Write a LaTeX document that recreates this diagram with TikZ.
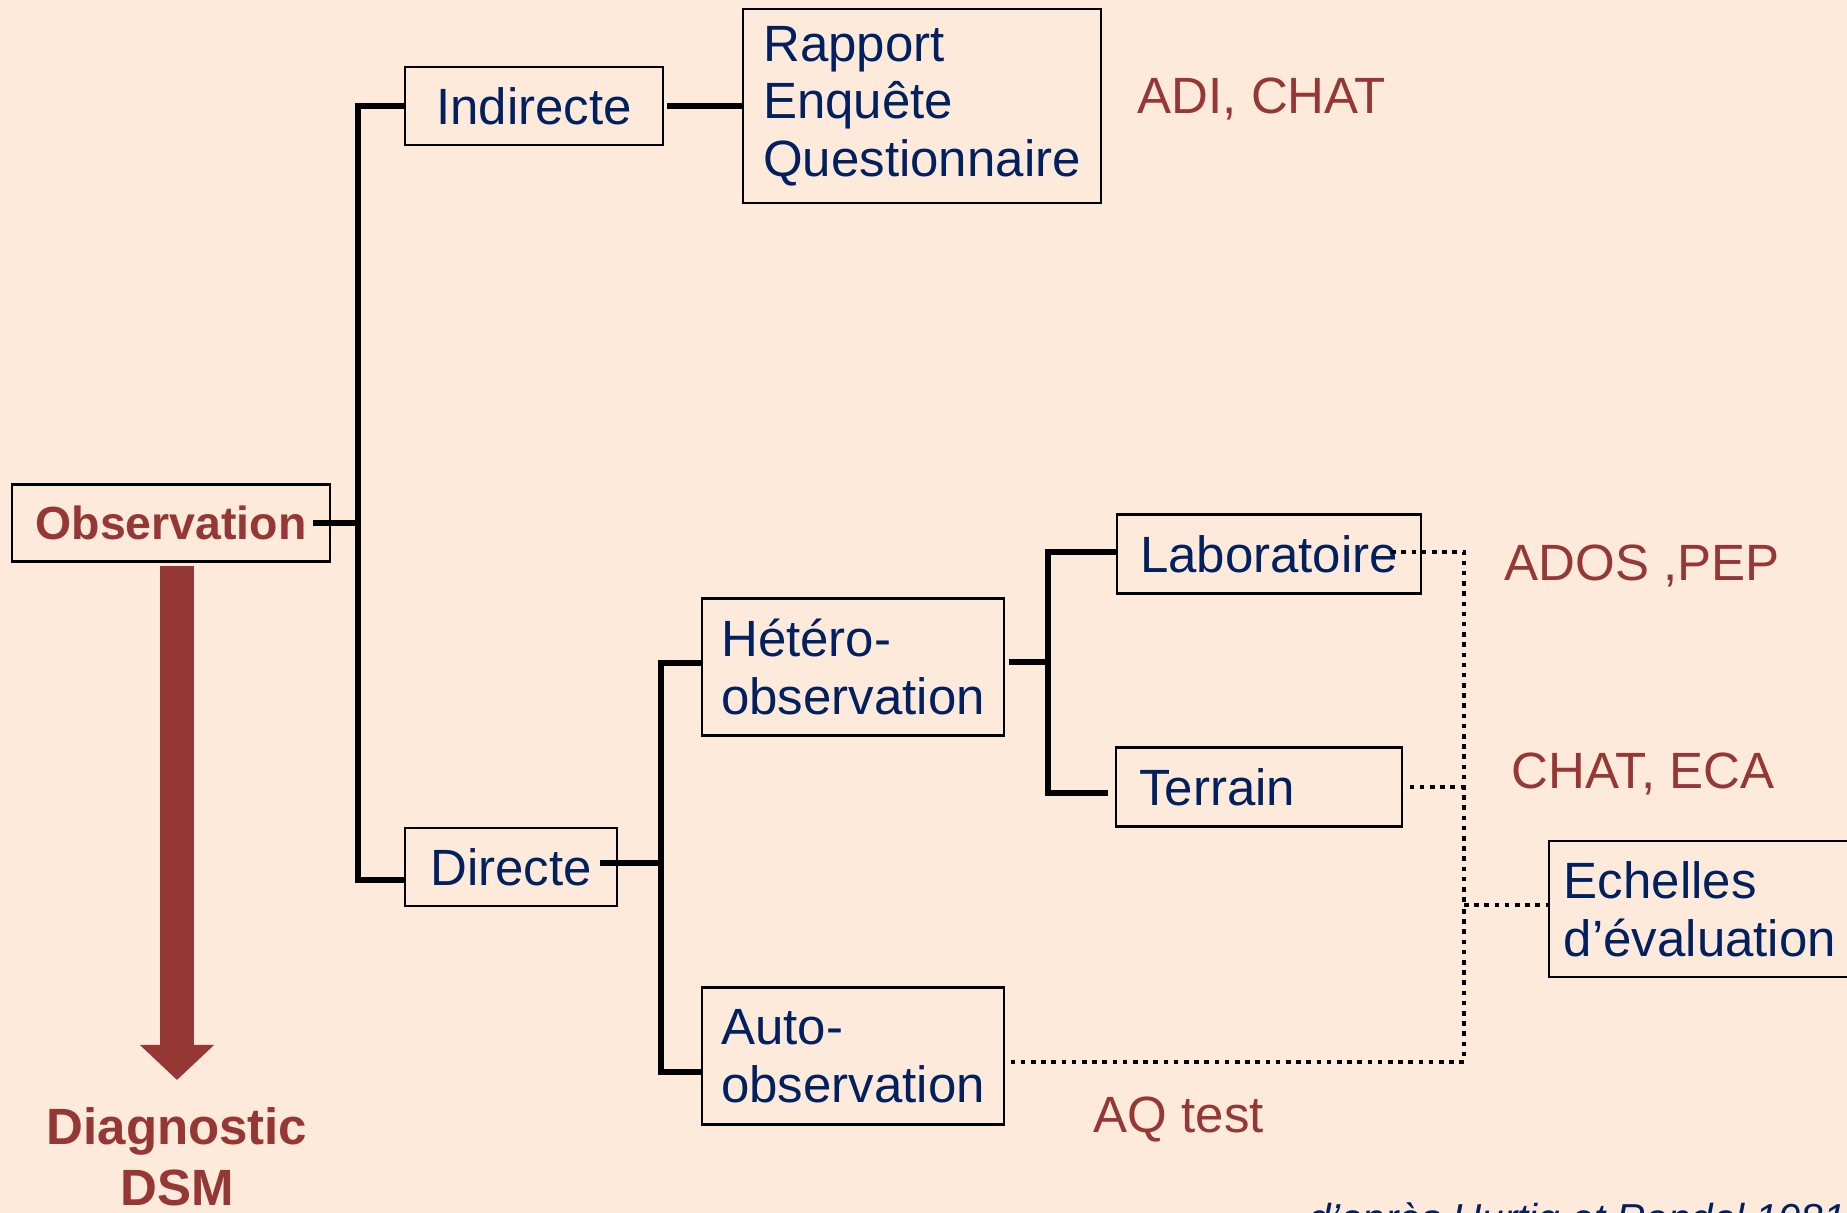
\documentclass[tikz,border=0pt]{standalone}
\usepackage{fontspec}
\setmainfont{Liberation Sans}
\usetikzlibrary{calc,arrows.meta}

\definecolor{fond}{RGB}{253,234,218}
\definecolor{bleunuit}{RGB}{0,32,96}
\definecolor{brique}{RGB}{149,55,53}
\def\taille{\fontsize{14.5}{16.4}\selectfont}

\begin{document}
\begin{tikzpicture}[x=0.01cm, y=-0.01cm,
  boite/.style={draw, semithick, inner sep=0pt, text=bleunuit, align=left, font=\taille},
  etiquette/.style={inner sep=0pt, anchor=base west, text=brique, font=\taille},
  lien/.style={line width=1.5pt},
  pointille/.style={line width=1.3pt, dash pattern=on 1.3pt off 1.6pt},
  fleche/.style={line width=0.34cm, brique, -{Triangle[width=0.72cm,length=0.35cm]}}]
  \useasboundingbox (0,0) rectangle (1847,1213);
  \fill[fond] (0,0) rectangle (1847,1213);
  \clip (0,0) rectangle (1847,1213);

  \node[boite, minimum width=3.18cm, minimum height=0.77cm, text=brique, font=\fontsize{13.2}{16}\selectfont\bfseries] (obs) at (171,523) {Observation};
  \node[boite, minimum width=2.57cm, minimum height=0.78cm] (ind) at (534,106) {Indirecte};
  \node[boite, minimum width=3.57cm, minimum height=1.94cm] (rap) at (922,106) {Rapport\\Enquête\\Questionnaire};
  \node[boite, minimum width=2.11cm, minimum height=0.78cm] (dir) at (511,867) {Directe};
  \node[boite, minimum width=3.01cm, minimum height=1.37cm] (het) at (853,667) {Hétéro-\\observation};
  \node[boite, minimum width=3.01cm, minimum height=1.37cm] (aut) at (853,1056) {Auto-\\observation};
  \node[boite, minimum width=3.04cm, minimum height=0.79cm] (lab) at (1269,554) {Laboratoire};
  \node[boite, text width=2.39cm, inner xsep=0.23cm, minimum height=0.79cm] (ter) at (1259,787) {Terrain};
  \node[boite, minimum width=3.01cm, minimum height=1.36cm] (ech) at (1700,909) {Echelles\\d’évaluation};

  \node[etiquette] (adi) at (1137,114) {ADI, CHAT};
  \node[etiquette] (ados) at (1504,581) {ADOS ,PEP};
  \node[etiquette] (chat) at (1511,789) {CHAT, ECA};
  \node[etiquette] (aq) at (1093,1133) {AQ test};

  \node[inner sep=0pt, anchor=north, align=center, text=brique, font=\fontsize{14.5}{17.4}\selectfont\bfseries] (diag) at (177,1107) {Diagnostic\\DSM};
  \node[inner sep=0pt, anchor=base west, text=bleunuit, font=\fontsize{11.5}{14}\selectfont\itshape] (source) at (1308,1233) {d’après Hurtig et Rondal 1981};

  \draw[fleche] (obs.south -| diag.north) ++(0,3) -- ($(diag.north)+(0,-27)$);

  \coordinate (t1) at (358,523);
  \draw[lien] (obs.east) ++(-18,0) -- (t1);
  \draw[lien] (ind.west) -| (t1) |- ($(dir.west)+(0,13)$);
  \draw[lien] (ind.east) ++(3,0) -- (rap.west);

  \coordinate (t2) at (661,863);
  \draw[lien] (dir.east) ++(-18,-4) -- (t2);
  \draw[lien] ($(het.west)+(0,-4)$) -| (t2) |- ($(aut.west)+(0,16)$);

  \coordinate (t3) at (1048,662);
  \draw[lien] (het.east) ++(4,-5) -- (t3);
  \draw[lien] ($(lab.west)+(0,-2)$) -| (t3) |- ($(ter.west)+(-7,6)$);

  \coordinate (t4) at (1464,905);
  \draw[pointille] (lab.east) ++(-31,-2) -| (t4);
  \draw[pointille] (ter.east) ++(7,0) -- (ter.east -| t4);
  \draw[pointille] (t4) -- (t4 -| ech.west);
  \draw[pointille] (aut.east) ++(6,6) -| (t4);
\end{tikzpicture}
\end{document}
